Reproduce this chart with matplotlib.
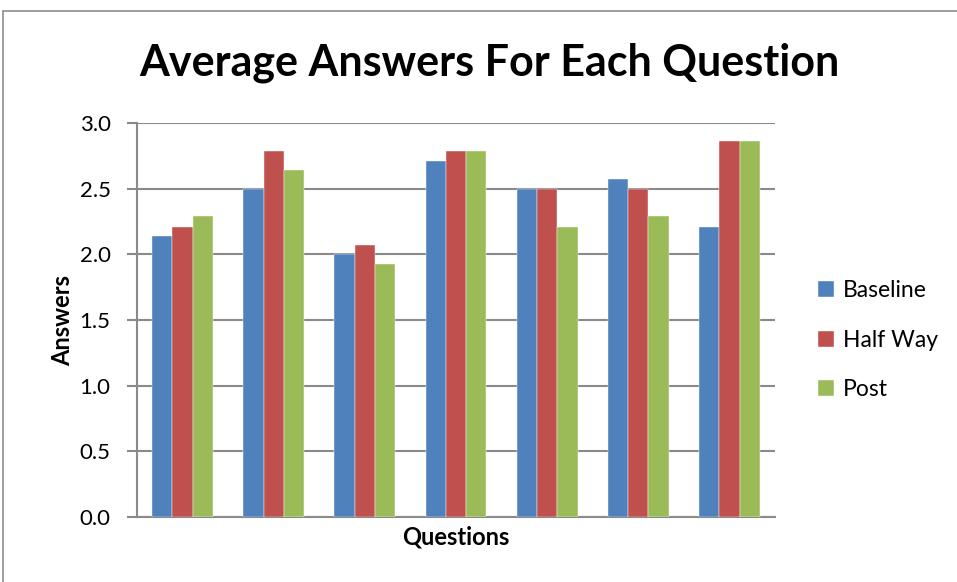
import numpy as np
import matplotlib.pyplot as plt
from matplotlib.patches import Rectangle

plt.rcParams['font.family'] = ['Lato', 'DejaVu Sans']

questions = ['Q1', 'Q2', 'Q3', 'Q4', 'Q5', 'Q6', 'Q7']
baseline = [2.14, 2.50, 2.00, 2.71, 2.50, 2.57, 2.21]
half_way = [2.21, 2.79, 2.07, 2.79, 2.50, 2.50, 2.86]
post = [2.29, 2.64, 1.93, 2.79, 2.21, 2.29, 2.86]
series_names = ['Baseline', 'Half Way', 'Post']
colors = ['#4F81BD', '#C0504D', '#9BBB59']
y_ticks = [0.0, 0.5, 1.0, 1.5, 2.0, 2.5, 3.0]

fig = plt.figure(figsize=(9.57, 5.82), dpi=100)
ax = fig.add_axes([137 / 957, 1 - 517 / 582, (775 - 137) / 957, (517 - 123) / 582])

# outer chart frame
fig.patches.append(Rectangle((3 / 957, -0.1), 1.2, 1 - 11 / 582 + 0.1,
                             transform=fig.transFigure, fill=False,
                             edgecolor='#8c8c8c', linewidth=1.2))

x = np.arange(len(questions))
w = 1 / 4.5
for i, vals in enumerate([baseline, half_way, post]):
    ax.bar(x + (i - 1) * w, vals, w, color=colors[i], label=series_names[i],
           zorder=3, edgecolor='white', linewidth=0.3)

ax.set_xlim(-0.5, len(questions) - 0.5)
ax.set_ylim(0, 3.0)
ax.set_yticks(y_ticks)
ax.set_yticklabels(['%.1f' % t for t in y_ticks], fontsize=16)
ax.set_xticks([])
ax.yaxis.grid(True, color='#8a8a8a', linewidth=1.5, zorder=0)
for s in ['top', 'right']:
    ax.spines[s].set_visible(False)
ax.spines['left'].set_color('#8a8a8a')
ax.spines['left'].set_linewidth(1.5)
ax.spines['bottom'].set_color('#8a8a8a')
ax.spines['bottom'].set_linewidth(1.5)
ax.tick_params(axis='y', length=7, width=1.5, color='#8a8a8a', pad=12)

fig.text(489 / 957, 1 - 63 / 582, 'Average Answers For Each Question',
         fontsize=31, fontweight='bold', ha='center', va='center')
ax.set_ylabel('Answers', fontsize=17, fontweight='bold', labelpad=4)
ax.set_xlabel('Questions', fontsize=17, fontweight='bold', labelpad=6)

ax.legend(loc='center left', bbox_to_anchor=(1.035, 0.449), frameon=False,
          fontsize=16.5, handlelength=0.7, handleheight=0.7, handletextpad=0.4,
          labelspacing=1.25)

fig.savefig('out.png', dpi=100)
